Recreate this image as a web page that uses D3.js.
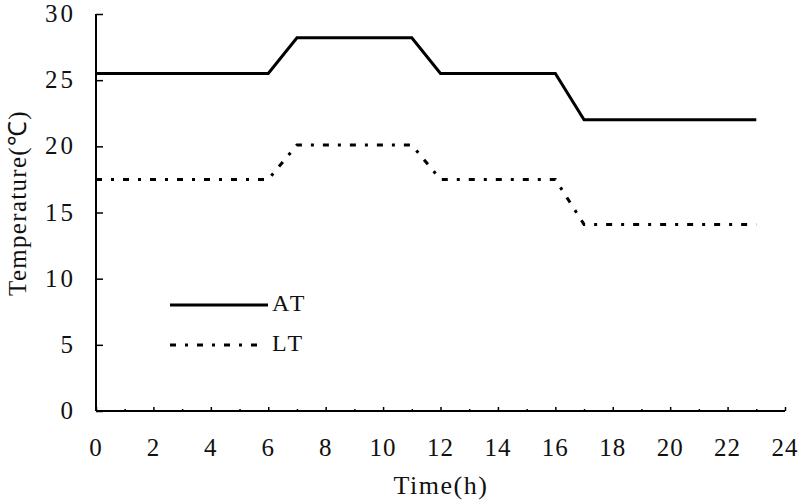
<!DOCTYPE html>
<html>
<head>
<meta charset="utf-8">
<script src="https://cdn.jsdelivr.net/npm/d3@7"></script>
<style>
  html, body { margin: 0; padding: 0; background: #fff; }
  svg text { font-family: "Liberation Serif", "Times New Roman", serif; fill: #111; }
</style>
</head>
<body>
<svg id="chart" width="800" height="501"></svg>
<script>
// Hourly temperature profile
const hours = d3.range(0, 24);
const atValues = [25.5,25.5,25.5,25.5,25.5,25.5,25.5,28.2,28.2,28.2,28.2,28.2,25.5,25.5,25.5,25.5,25.5,22,22,22,22,22,22,22];
const ltValues = [17.5,17.5,17.5,17.5,17.5,17.5,17.5,20.1,20.1,20.1,20.1,20.1,17.5,17.5,17.5,17.5,17.5,14.1,14.1,14.1,14.1,14.1,14.1,14.1];
const xTicks = d3.range(0, 25, 2);
const yTicks = [0, 5, 10, 15, 20, 25, 30];
const seriesNames = ['AT', 'LT'];

const svg = d3.select('#chart');
const x = d3.scaleLinear().domain([0, 24]).range([96, 785]);
const y = d3.scaleLinear().domain([0, 30]).range([411, 14]);

const LT_DASH = '6,9,3,9';

// axes
const gx = svg.append('g').attr('transform', `translate(0,${y(0)})`);
gx.call(d3.axisTop(x).tickValues(d3.range(0, 25, 1)).tickSize(2).tickFormat(''));
gx.call(g => g.selectAll('.tick line').filter(d => d % 2 === 0).attr('y2', -4));
gx.select('.domain').attr('stroke-width', 2).attr('d', `M${x(0)},0H${x(24)}`);
gx.selectAll('.tick line').attr('stroke-width', 1.5);

const gy = svg.append('g').attr('transform', `translate(${x(0)},0)`);
gy.call(d3.axisRight(y).tickValues(yTicks).tickSize(7).tickFormat(''));
gy.select('.domain').attr('stroke-width', 2).attr('d', `M0,${y(30)}V${y(0)}`);
gy.selectAll('.tick line').attr('stroke-width', 1.5);

// tick labels
svg.append('g').selectAll('text').data(xTicks).join('text')
  .attr('x', d => x(d)).attr('y', 456)
  .attr('text-anchor', 'middle')
  .attr('font-size', 25).attr('letter-spacing', 1)
  .text(d => d);

svg.append('g').selectAll('text').data(yTicks).join('text')
  .attr('x', 76).attr('y', d => y(d) + 8)
  .attr('text-anchor', 'end')
  .attr('font-size', 25).attr('letter-spacing', 3)
  .text(d => d);

// axis titles
svg.append('text')
  .attr('x', 441).attr('y', 494)
  .attr('text-anchor', 'middle').attr('font-size', 26).attr('letter-spacing', 1.5)
  .text('Time(h)');

svg.append('text')
  .attr('transform', 'translate(26,203) rotate(-90)')
  .attr('text-anchor', 'middle').attr('font-size', 25).attr('letter-spacing', 1.3)
  .text('Temperature(℃)');

// series
const line = d3.line().x((d, i) => x(hours[i])).y(d => y(d));

svg.append('path').datum(atValues)
  .attr('d', line)
  .attr('fill', 'none').attr('stroke', '#000').attr('stroke-width', 3);

svg.append('path').datum(ltValues)
  .attr('d', line)
  .attr('fill', 'none').attr('stroke', '#000').attr('stroke-width', 3)
  .attr('stroke-dasharray', LT_DASH);

// legend
const legend = svg.append('g');
[[305, null], [345, LT_DASH]].forEach(([ly, dash], i) => {
  legend.append('line')
    .attr('x1', 170).attr('x2', i === 0 ? 268 : 260)
    .attr('y1', ly).attr('y2', ly)
    .attr('stroke', '#000').attr('stroke-width', 3)
    .attr('stroke-dasharray', dash);
  legend.append('text')
    .attr('x', 272).attr('y', ly + 6)
    .attr('font-size', 24).attr('letter-spacing', 3)
    .text(seriesNames[i]);
});
</script>
</body>
</html>
